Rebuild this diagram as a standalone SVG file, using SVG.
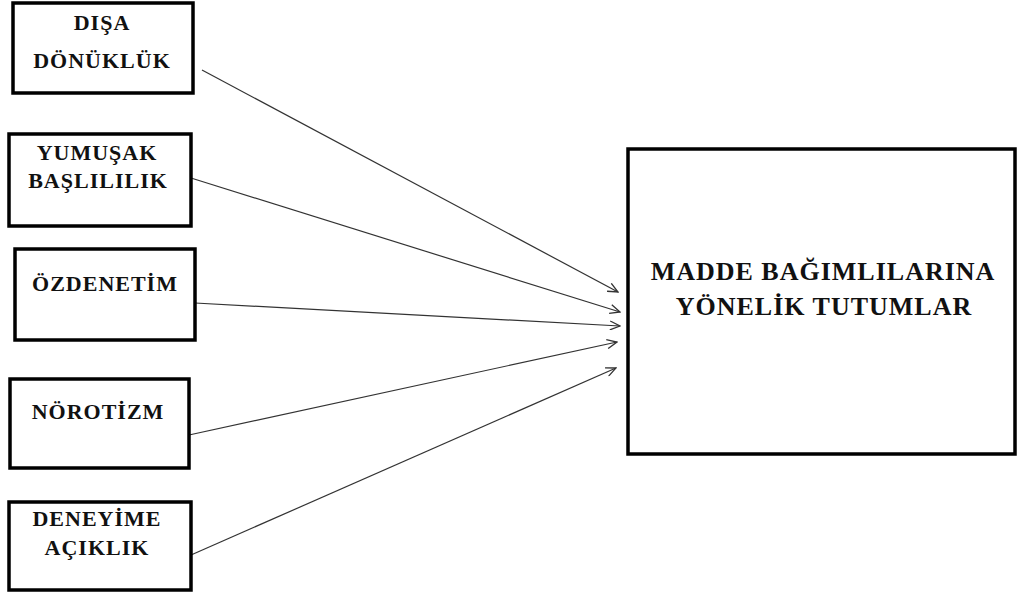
<svg xmlns="http://www.w3.org/2000/svg" width="1017" height="599" viewBox="0 0 1017 599">
  <style>
    .box { fill: #ffffff; stroke: #000000; stroke-width: 3.5; }
    .lbl { font-family: 'Liberation Serif', 'Times New Roman', serif; font-weight: bold; font-size: 22px; fill: #111111; text-anchor: middle; letter-spacing: 1px; }
    .big { font-size: 26px; }
    .link { stroke: #333333; stroke-width: 1.2; fill: none; marker-end: url(#open); }
  </style>
  <defs>
    <!-- open V arrowhead used by every connector -->
    <marker id="open" viewBox="0 0 12 10" refX="11" refY="5" markerWidth="12" markerHeight="10" markerUnits="userSpaceOnUse" orient="auto">
      <path d="M1,0.5 L11,5 L1,9.5" fill="none" stroke="#333333" stroke-width="1.3"/>
    </marker>
  </defs>
  <rect width="1017" height="599" fill="#ffffff"/>

  <g id="connectors">
    <line class="link" x1="202" y1="70" x2="618" y2="292"/>
    <line class="link" x1="191" y1="178" x2="620" y2="312"/>
    <line class="link" x1="195" y1="303" x2="620" y2="326"/>
    <line class="link" x1="189" y1="435" x2="617" y2="342"/>
    <line class="link" x1="191" y1="555" x2="616" y2="368"/>
  </g>

  <g id="disa-donukluk">
    <rect class="box" x="13" y="3" width="180" height="90"/>
    <text class="lbl" x="102" y="30">DIŞA</text>
    <text class="lbl" x="102" y="68">DÖNÜKLÜK</text>
  </g>

  <g id="yumusak-baslilik">
    <rect class="box" x="9" y="134" width="182" height="92"/>
    <text class="lbl" x="97" y="160">YUMUŞAK</text>
    <text class="lbl" x="98" y="188">BAŞLILILIK</text>
  </g>

  <g id="ozdenetim">
    <rect class="box" x="15" y="249" width="180" height="91"/>
    <text class="lbl" x="105" y="291">ÖZDENETİM</text>
  </g>

  <g id="norotizm">
    <rect class="box" x="10" y="379" width="179" height="89"/>
    <text class="lbl" x="98" y="419">NÖROTİZM</text>
  </g>

  <g id="deneyime-aciklik">
    <rect class="box" x="9" y="502" width="182" height="88"/>
    <text class="lbl" x="97" y="526">DENEYİME</text>
    <text class="lbl" x="97" y="555">AÇIKLIK</text>
  </g>

  <g id="madde-tutumlar">
    <rect class="box" x="628" y="149" width="387" height="305"/>
    <text class="lbl big" x="823" y="280">MADDE BAĞIMLILARINA</text>
    <text class="lbl big" x="824" y="315">YÖNELİK TUTUMLAR</text>
  </g>
</svg>
